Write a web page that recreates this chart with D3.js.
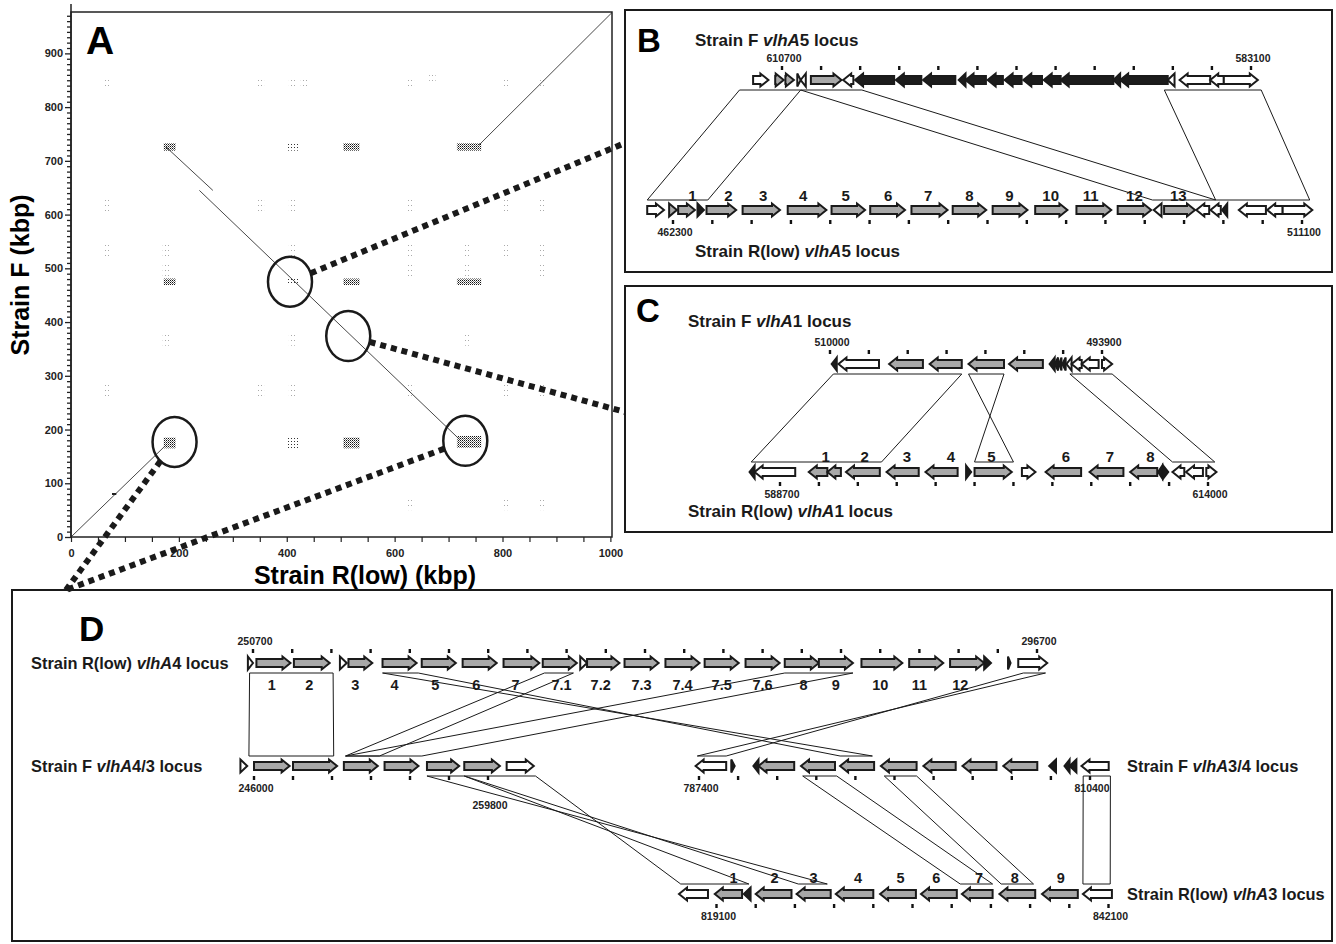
<!DOCTYPE html>
<html>
<head>
<meta charset="utf-8">
<script src="https://cdn.jsdelivr.net/npm/d3@7"></script>
<style>
body { margin: 0; background: #fff; }
svg { font-family: "Liberation Sans", Arial, sans-serif; font-weight: bold; }
</style>
</head>
<body>
<svg id="fig" width="1336" height="944"></svg>
<script>
// ---- panel A: dot plot (kbp) ----
var xTickLabels = [0, 200, 400, 600, 800, 1000];
var yTickLabels = [0, 100, 200, 300, 400, 500, 600, 700, 800, 900];
// x1, y1, x2, y2
var matchSegments = [[0, 0, 176, 171], [176, 726, 263, 645], [238, 645, 721, 181], [757, 730, 1003, 976]];
var shortMatches = [[76, 80, 84, 80]];
// x, y, width, height (kbp), dense?
var repeatBlocks = [
	[183, 726, 22, 14, 1], [410, 726, 22, 14, 0], [520, 726, 30, 14, 1], [738, 726, 45, 14, 1],
	[183, 475, 22, 12, 1], [410, 475, 22, 12, 0], [520, 475, 30, 12, 1], [738, 475, 45, 12, 1],
	[183, 175, 22, 20, 1], [410, 175, 22, 20, 0], [520, 175, 30, 20, 1], [738, 177, 45, 22, 1]
];
var faintSpots = [
	[66, 845], [352, 845], [410, 845], [432, 845], [630, 845], [670, 855], [806, 845], [873, 845],
	[66, 617], [352, 617], [410, 617], [630, 617], [806, 617], [873, 617],
	[66, 533], [176, 533], [410, 533], [630, 533], [735, 533], [806, 533], [873, 533],
	[176, 497], [630, 497], [735, 497], [873, 497],
	[176, 368], [410, 368], [735, 368],
	[66, 272], [352, 272], [410, 272], [630, 272], [806, 272], [873, 272],
	[630, 62], [806, 62], [873, 62]
];
var circled = [[406, 475], [514, 374], [192, 177], [731, 179]];

// ---- loci: [start, end, fill] arrow runs start -> end (bp) ----
var bF = [
	[612400, 611500, 'w'], [611100, 610600, 'g'], [610500, 610000, 'g'], [609800, 609600, 'w'],
	[609300, 609600, 'w'], [609000, 607200, 'g'], [606500, 607100, 'w'], [604100, 606400, 'b'],
	[602500, 604000, 'b'], [600500, 602400, 'b'], [599900, 600300, 'b'], [598700, 599900, 'b'],
	[597700, 598600, 'b'], [596600, 597600, 'b'], [595400, 596500, 'b'], [594300, 595300, 'b'],
	[591200, 594300, 'b'], [590800, 591200, 'b'], [588000, 590800, 'b'], [587600, 588000, 'w'],
	[585500, 587300, 'w'], [584700, 585500, 'w'], [584700, 582700, 'w']
];
var bR = [
	[460300, 461600, 'w'], [462000, 462600, 'g'], [462700, 464000, 'g'], [464200, 464700, 'b'],
	[464900, 467200, 'g'], [467700, 470600, 'g'], [471200, 474200, 'g'], [474600, 477200, 'g'],
	[477600, 480300, 'g'], [480800, 483600, 'g'], [484000, 486600, 'g'], [487100, 489800, 'g'],
	[490400, 492900, 'g'], [493600, 496300, 'g'], [496800, 499400, 'g'], [500200, 499600, 'w'],
	[500400, 502800, 'g'], [503900, 502900, 'w'], [504800, 504000, 'w'], [505300, 504900, 'b'],
	[508300, 506200, 'w'], [509600, 508400, 'w'], [509600, 511900, 'w']
];
var bRNums = [[463800, '1'], [466600, '2'], [469300, '3'], [472400, '4'], [475700, '5'], [479000, '6'],
	[482100, '7'], [485300, '8'], [488400, '9'], [491600, '10'], [494700, '11'], [498100, '12'], [501500, '13']];

var cF = [
	[509600, 509900, 'b'], [507100, 509500, 'w'], [504500, 506500, 'g'], [502200, 504100, 'g'],
	[499700, 501800, 'g'], [497400, 499400, 'g'], [496700, 497000, 'b'], [496500, 496700, 'b'],
	[496300, 496450, 'b'], [496050, 496250, 'b'], [495700, 496000, 'w'], [495100, 495700, 'w'],
	[494100, 495100, 'w'], [493900, 493300, 'w']
];
var cR = [
	[587200, 586900, 'b'], [589600, 587200, 'w'], [591500, 590400, 'g'], [592300, 591500, 'g'],
	[594600, 592600, 'g'], [596900, 595000, 'g'], [599200, 597300, 'g'], [599700, 600000, 'b'],
	[600200, 602400, 'g'], [603000, 603800, 'w'], [606500, 604400, 'g'], [609000, 607000, 'g'],
	[611000, 609400, 'g'], [611300, 611050, 'b'], [611350, 611650, 'b'], [612600, 611900, 'w'],
	[613700, 612700, 'w'], [613900, 614500, 'w']
];
var cRNums = [[591400, '1'], [593700, '2'], [596200, '3'], [598800, '4'], [601200, '5'], [605600, '6'], [608200, '7'], [610600, '8']];

var dR4 = [
	[250400, 250700, 'w'], [250900, 252900, 'g'], [253100, 255200, 'g'], [255800, 256200, 'w'],
	[256300, 257700, 'g'], [258300, 260300, 'g'], [260600, 262600, 'g'], [263000, 265000, 'g'],
	[265400, 267500, 'g'], [267700, 269700, 'g'], [269900, 270300, 'w'], [270300, 272200, 'g'],
	[272500, 274500, 'g'], [274900, 276900, 'g'], [277200, 279200, 'g'], [279600, 281600, 'g'],
	[281900, 283900, 'g'], [283900, 285900, 'g'], [286400, 288800, 'g'], [289200, 291200, 'g'],
	[291600, 293600, 'g'], [293600, 294000, 'b'], [295000, 295150, 'b'], [295600, 297300, 'w']
];
var dR4Nums = [[251800, '1'], [254000, '2'], [256700, '3'], [259000, '4'], [261400, '5'], [263800, '6'],
	[266100, '7'], [268800, '7.1'], [271100, '7.2'], [273500, '7.3'], [275900, '7.4'], [278200, '7.5'],
	[280600, '7.6'], [283000, '8'], [284900, '9'], [287500, '10'], [289800, '11'], [292200, '12']];
var dF43 = [
	[245200, 245600, 'w'], [246000, 248100, 'g'], [248300, 250900, 'g'], [251300, 253300, 'g'],
	[253700, 255700, 'g'], [256200, 258100, 'g'], [258400, 260500, 'g'], [260900, 262500, 'w']
];
var dF34 = [
	[789000, 787200, 'w'], [789300, 789500, 'b'], [790900, 790600, 'b'], [793000, 790900, 'g'],
	[795400, 793400, 'g'], [797700, 795700, 'g'], [800200, 798100, 'g'], [802500, 800600, 'g'],
	[804900, 802900, 'g'], [807300, 805300, 'g'], [808400, 808000, 'b'], [809200, 808900, 'b'],
	[809600, 809200, 'b'], [811500, 809900, 'w']
];
var dR3 = [
	[818600, 816900, 'w'], [820600, 819000, 'g'], [821100, 820700, 'b'], [823500, 821400, 'g'],
	[825800, 823800, 'g'], [828300, 826100, 'g'], [830800, 828700, 'g'], [833200, 831100, 'g'],
	[835300, 833500, 'g'], [837800, 835700, 'g'], [840300, 838200, 'g'], [842300, 840600, 'w']
];
var dR3Nums = [[820100, '1'], [822500, '2'], [824800, '3'], [827400, '4'], [829900, '5'], [832000, '6'], [834500, '7'], [836600, '8'], [839300, '9']];

// [track a, track b, [a1, a2], [b1, b2]]  a1 joins b1, a2 joins b2
var links = [
	['bF', 'bR', [613200, 609600], [460300, 465000]],
	['bF', 'bR', [609600, 606000], [499500, 504400]],
	['bF', 'bR', [588200, 582500], [504400, 511700]],
	['cF', 'cR', [509800, 502200], [587000, 594700]],
	['cF', 'cR', [501800, 499700], [602500, 600200]],
	['cF', 'cR', [495800, 493300], [611900, 614400]],
	['dR4', 'dF43', [250500, 255400], [245700, 250700]],
	['dR4', 'dF34', [258300, 260400], [797600, 795700]],
	['dR4', 'dF43', [267800, 269500], [251400, 253400]],
	['dR4', 'dF43', [281900, 285900], [251400, 255900]],
	['dR4', 'dF34', [295900, 297200], [789000, 787300]],
	['dF43', 'dR3', [256200, 258400], [825600, 823900]],
	['dF43', 'dR3', [258400, 262600], [821000, 817000]],
	['dF34', 'dR3', [793500, 795500], [833400, 835300]],
	['dF34', 'dR3', [798300, 800200], [835800, 837700]],
	['dF34', 'dR3', [810000, 811600], [840600, 842200]]
];

var locusNames = {
	bF: ['Strain F ', 'vlhA', '5 locus'], bR: ['Strain R(low) ', 'vlhA', '5 locus'],
	cF: ['Strain F ', 'vlhA', '1 locus'], cR: ['Strain R(low) ', 'vlhA', '1 locus'],
	dR4: ['Strain R(low) ', 'vlhA', '4 locus'], dF43: ['Strain F ', 'vlhA', '4/3 locus'],
	dF34: ['Strain F ', 'vlhA', '3/4 locus'], dR3: ['Strain R(low) ', 'vlhA', '3 locus']
};

// ---- layout ----
var T = {
	bF:   {genes: bF,   from: 610700, to: 583100, n: 12, x0: 782,   x1: 1251,   y: 80,  side: -1, name: [695, 46, 17]},
	bR:   {genes: bR,   from: 462300, to: 511100, n: 16, x0: 673,   x1: 1302,   y: 210, side: 1,  name: [695, 257, 17], nums: bRNums, numDy: -9, numSize: 15},
	cF:   {genes: cF,   from: 510000, to: 493900, n: 7,  x0: 830,   x1: 1102,   y: 364, side: -1, name: [688, 327, 17]},
	cR:   {genes: cR,   from: 588700, to: 614000, n: 11, x0: 780,   x1: 1208,   y: 472, side: 1,  name: [688, 517, 17], nums: cRNums, numDy: -10, numSize: 15},
	dR4:  {genes: dR4,  from: 250700, to: 296700, n: 20, x0: 253,   x1: 1037,   y: 663, side: -1, name: [31, 669, 16.4], nums: dR4Nums, numDy: 27, numSize: 14.5},
	dF43: {genes: dF43, from: 246000, to: 259800, n: 6,  x0: 254,   x1: 488,    y: 766, side: 1,  name: [31, 772, 16.4], endDy: 17},
	dF34: {genes: dF34, from: 787400, to: 810400, n: 10, x0: 699,   x1: 1090,   y: 766, side: 1,  name: [1127, 772, 16.4]},
	dR3:  {genes: dR3,  from: 819100, to: 842100, n: 10, x0: 716.5, x1: 1108.5, y: 894, side: 1,  name: [1127, 900, 16.4], nums: dR3Nums, numDy: -11, numSize: 14.5}
};
var fills = {g: '#a8a8a8', w: '#ffffff', b: '#1c1c1c'};
var HEAD = 8, BH = 4, HH = 6.5;

var svg = d3.select('#fig');
var defs = svg.append('defs');
var pd = defs.append('pattern').attr('id', 'dense').attr('width', 2).attr('height', 2).attr('patternUnits', 'userSpaceOnUse');
pd.append('rect').attr('width', 1).attr('height', 1).attr('fill', '#111');
pd.append('rect').attr('x', 1).attr('y', 1).attr('width', 1).attr('height', 1).attr('fill', '#777');
defs.append('pattern').attr('id', 'light').attr('width', 3).attr('height', 3).attr('patternUnits', 'userSpaceOnUse')
	.append('rect').attr('width', 1).attr('height', 1).attr('fill', '#333');
defs.append('pattern').attr('id', 'faint').attr('width', 3).attr('height', 5).attr('patternUnits', 'userSpaceOnUse')
	.append('rect').attr('width', 1).attr('height', 1).attr('fill', '#aaa');

// panel frames
[[625, 10, 707, 262], [625, 286, 707, 246], [12, 590, 1320, 351]].forEach(function(b) {
	svg.append('rect').attr('x', b[0]).attr('y', b[1]).attr('width', b[2]).attr('height', b[3])
		.attr('fill', 'none').attr('stroke', '#1a1a1a').attr('stroke-width', 2);
});

// ---- panel A ----
var ax = d3.scaleLinear().domain([0, 1003]).range([71, 612]);
var ay = d3.scaleLinear().domain([0, 977]).range([537, 12]);
var pa = svg.append('g');

pa.selectAll('.faint').data(faintSpots).enter().append('rect')
	.attr('x', function(d) { return ax(d[0] - 6); })
	.attr('y', function(d) { return ay(d[1] + 12); })
	.attr('width', ax(12) - ax(0))
	.attr('height', ay(0) - ay(24))
	.attr('fill', 'url(#faint)');

pa.selectAll('.rep').data(repeatBlocks).enter().append('rect')
	.attr('x', function(d) { return ax(d[0] - d[2] / 2); })
	.attr('y', function(d) { return ay(d[1] + d[3] / 2); })
	.attr('width', function(d) { return ax(d[2]) - ax(0); })
	.attr('height', function(d) { return ay(0) - ay(d[3]); })
	.attr('fill', function(d) { return d[4] ? 'url(#dense)' : 'url(#light)'; });

pa.selectAll('.seg').data(matchSegments).enter().append('line')
	.attr('x1', function(d) { return ax(d[0]); }).attr('y1', function(d) { return ay(d[1]); })
	.attr('x2', function(d) { return ax(d[2]); }).attr('y2', function(d) { return ay(d[3]); })
	.attr('stroke', '#333').attr('stroke-width', 0.9);
pa.selectAll('.short').data(shortMatches).enter().append('line')
	.attr('x1', function(d) { return ax(d[0]); }).attr('y1', function(d) { return ay(d[1]); })
	.attr('x2', function(d) { return ax(d[2]); }).attr('y2', function(d) { return ay(d[3]); })
	.attr('stroke', '#222').attr('stroke-width', 2);

pa.append('rect').attr('x', ax(0)).attr('y', ay(977)).attr('width', ax(1003) - ax(0)).attr('height', ay(0) - ay(977))
	.attr('fill', 'none').attr('stroke', '#222').attr('stroke-width', 1.5);
pa.append('line').attr('x1', ax(0)).attr('x2', ax(0)).attr('y1', 4).attr('y2', ay(0)).attr('stroke', '#222').attr('stroke-width', 1.5);

var gy = pa.append('g').attr('transform', 'translate(' + ax(0) + ',0)')
	.call(d3.axisLeft(ay).tickValues(d3.range(0, 971, 10)).tickSize(4).tickPadding(4)
		.tickFormat(function(d) { return yTickLabels.indexOf(d) >= 0 ? d : ''; }));
gy.select('.domain').remove();
gy.selectAll('.tick line').attr('stroke', '#222').attr('stroke-width', 1.3)
	.attr('x2', function(d) { return d % 100 === 0 ? -6 : -4; });
gy.selectAll('text').attr('font-size', 11).attr('font-weight', 'bold').attr('font-family', '"Liberation Sans", Arial, sans-serif').attr('fill', '#222');

var gx = pa.append('g').attr('transform', 'translate(0,' + ay(0) + ')')
	.call(d3.axisBottom(ax).tickValues(d3.range(0, 1001, 50)).tickSize(5).tickPadding(7)
		.tickFormat(function(d) { return xTickLabels.indexOf(d) >= 0 ? d : ''; }));
gx.select('.domain').remove();
gx.selectAll('.tick line').attr('stroke', '#222').attr('stroke-width', 1.2);
gx.selectAll('text').attr('font-size', 11).attr('font-weight', 'bold').attr('font-family', '"Liberation Sans", Arial, sans-serif').attr('fill', '#222');

pa.append('text').attr('x', 86).attr('y', 54).attr('font-size', 39).text('A');
pa.append('text').attr('x', 365).attr('y', 584).attr('text-anchor', 'middle').attr('font-size', 25).text('Strain R(low) (kbp)');
pa.append('text').attr('transform', 'translate(29,275) rotate(-90)').attr('text-anchor', 'middle').attr('font-size', 25).text('Strain F (kbp)');

var targets = [[625, 143], [625, 412], [66, 590], [66, 590]];
circled.forEach(function(c, i) {
	var cx = ax(c[0]), cy = ay(c[1]), rx = 22, ry = 25;
	var dx = targets[i][0] - cx, dy = targets[i][1] - cy;
	var t = 1 / Math.sqrt((dx / rx) * (dx / rx) + (dy / ry) * (dy / ry));
	svg.append('ellipse').attr('cx', cx).attr('cy', cy).attr('rx', rx).attr('ry', ry)
		.attr('fill', 'none').attr('stroke', '#1a1a1a').attr('stroke-width', 2.5);
	svg.append('line').attr('x1', cx + dx * t).attr('y1', cy + dy * t)
		.attr('x2', targets[i][0]).attr('y2', targets[i][1])
		.attr('stroke', '#1a1a1a').attr('stroke-width', 6).attr('stroke-dasharray', '6 5');
});

// ---- panels B, C, D ----
Object.keys(T).forEach(function(k) {
	var t = T[k];
	t.sx = d3.scaleLinear().domain([t.from, t.to]).range([t.x0, t.x1]);
});

var lg = svg.append('g');
links.forEach(function(l) {
	var ta = T[l[0]], tb = T[l[1]];
	var ya = ta.y + (tb.y > ta.y ? 10 : -10), yb = tb.y + (ta.y > tb.y ? 10 : -10);
	var p = d3.path();
	p.moveTo(ta.sx(l[2][0]), ya);
	p.lineTo(ta.sx(l[2][1]), ya);
	p.lineTo(tb.sx(l[3][1]), yb);
	p.lineTo(tb.sx(l[3][0]), yb);
	p.closePath();
	lg.append('path').attr('d', p.toString()).attr('fill', 'none').attr('stroke', '#1a1a1a').attr('stroke-width', 1);
});

function arrowPath(xa, xb, y) {
	var dir = xb >= xa ? 1 : -1, len = Math.abs(xb - xa);
	if (len <= HEAD) {
		return 'M' + xa + ',' + (y - HH) + 'L' + xb + ',' + y + 'L' + xa + ',' + (y + HH) + 'Z';
	}
	var xh = xb - dir * HEAD;
	return 'M' + xa + ',' + (y - BH) + 'L' + xh + ',' + (y - BH) + 'L' + xh + ',' + (y - HH) +
		'L' + xb + ',' + y + 'L' + xh + ',' + (y + HH) + 'L' + xh + ',' + (y + BH) +
		'L' + xa + ',' + (y + BH) + 'Z';
}

Object.keys(T).forEach(function(k) {
	var t = T[k], g = svg.append('g');
	var ticks = d3.range(t.n + 1).map(function(i) { return t.from + i * (t.to - t.from) / t.n; });

	g.selectAll('.tk').data(ticks).enter().append('rect')
		.attr('x', function(d) { return t.sx(d) - 1.2; })
		.attr('y', t.y + t.side * 12 - 2)
		.attr('width', 2.4).attr('height', 4).attr('fill', '#111');

	g.selectAll('.tl').data([t.from, t.to]).enter().append('text')
		.attr('x', function(d) { return t.sx(d) + 2; })
		.attr('y', function(d, i) { return (t.side < 0 ? t.y - 18 : t.y + 26) + (i === 1 && t.endDy ? t.endDy : 0); })
		.attr('text-anchor', 'middle').attr('font-size', 10.5).attr('fill', '#222')
		.text(function(d) { return d; });

	g.selectAll('.gene').data(t.genes).enter().append('path')
		.attr('d', function(d) { return arrowPath(t.sx(d[0]), t.sx(d[1]), t.y); })
		.attr('fill', function(d) { return fills[d[2]]; })
		.attr('stroke', '#1a1a1a').attr('stroke-width', 2).attr('stroke-linejoin', 'miter');

	if (t.nums) {
		g.selectAll('.num').data(t.nums).enter().append('text')
			.attr('x', function(d) { return t.sx(d[0]); })
			.attr('y', t.y + t.numDy)
			.attr('text-anchor', 'middle').attr('font-size', t.numSize).attr('fill', '#1a1a1a')
			.text(function(d) { return d[1]; });
	}

	var nm = g.append('text').attr('x', t.name[0]).attr('y', t.name[1]).attr('font-size', t.name[2]).attr('fill', '#1a1a1a');
	nm.append('tspan').text(locusNames[k][0]);
	nm.append('tspan').attr('font-style', 'italic').text(locusNames[k][1]);
	nm.append('tspan').text(locusNames[k][2]);
});

svg.append('text').attr('x', 637).attr('y', 52).attr('font-size', 33).text('B');
svg.append('text').attr('x', 636).attr('y', 322).attr('font-size', 33).text('C');
svg.append('text').attr('x', 79).attr('y', 641).attr('font-size', 35).text('D');
</script>
</body>
</html>
